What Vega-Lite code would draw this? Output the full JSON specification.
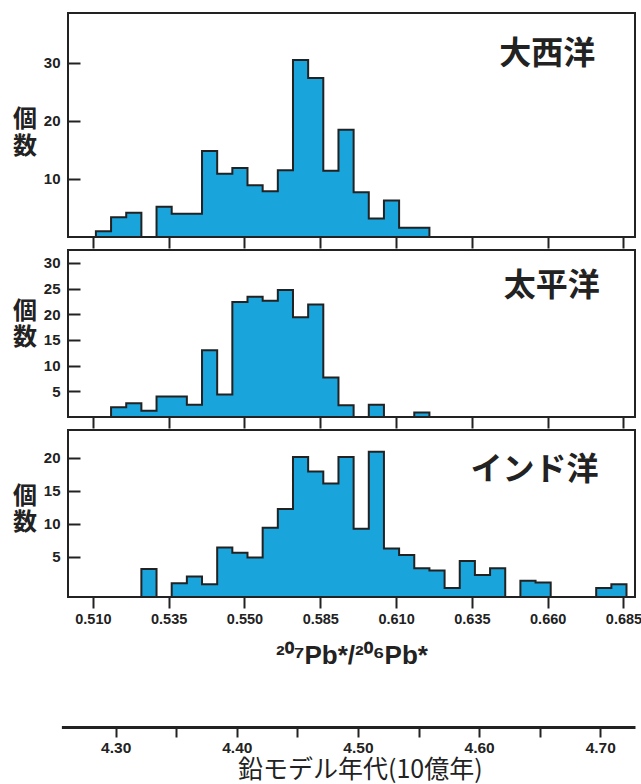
{
  "$schema": "https://vega.github.io/schema/vega-lite/v6.json",
  "padding": {"left": 11, "top": 12, "right": 0, "bottom": 0},
  "background": "white",
  "spacing": 13,
  "bounds": "flush",
  "config": {
    "font": "Liberation Sans",
    "view": {"stroke": "#222222", "strokeWidth": 2},
    "axis": {
      "grid": false,
      "domain": false,
      "tickColor": "#222222",
      "tickWidth": 2,
      "labelColor": "#222222",
      "labelFont": "Liberation Sans",
      "labelFontWeight": "bold",
      "labelFontSize": 15,
      "labelOverlap": false,
      "labelFlush": false,
      "titleColor": "#222222"
    }
  },
  "datasets": {
    "atlantic": [
      {"start": 0.511, "count": 1.0},
      {"start": 0.516, "count": 3.4},
      {"start": 0.521, "count": 4.2},
      {"start": 0.526, "count": 0},
      {"start": 0.531, "count": 5.2},
      {"start": 0.536, "count": 4.0},
      {"start": 0.541, "count": 4.0},
      {"start": 0.546, "count": 14.8},
      {"start": 0.551, "count": 10.9},
      {"start": 0.556, "count": 11.9},
      {"start": 0.561, "count": 8.9},
      {"start": 0.566, "count": 7.9},
      {"start": 0.571, "count": 11.5},
      {"start": 0.576, "count": 30.5},
      {"start": 0.581, "count": 27.4},
      {"start": 0.586, "count": 11.4},
      {"start": 0.591, "count": 18.5},
      {"start": 0.596, "count": 7.7},
      {"start": 0.601, "count": 3.2},
      {"start": 0.606, "count": 6.3},
      {"start": 0.611, "count": 1.6},
      {"start": 0.616, "count": 1.6},
      {"start": 0.621, "count": 0}
    ],
    "pacific": [
      {"start": 0.516, "count": 1.9},
      {"start": 0.521, "count": 2.7},
      {"start": 0.526, "count": 1.2},
      {"start": 0.531, "count": 4.0},
      {"start": 0.536, "count": 4.0},
      {"start": 0.541, "count": 2.4},
      {"start": 0.546, "count": 13.0},
      {"start": 0.551, "count": 4.4},
      {"start": 0.556, "count": 22.4},
      {"start": 0.561, "count": 23.4},
      {"start": 0.566, "count": 22.6},
      {"start": 0.571, "count": 24.7},
      {"start": 0.576, "count": 19.4},
      {"start": 0.581, "count": 21.9},
      {"start": 0.586, "count": 7.7},
      {"start": 0.591, "count": 2.3},
      {"start": 0.596, "count": 0},
      {"start": 0.601, "count": 2.4},
      {"start": 0.606, "count": 0},
      {"start": 0.611, "count": 0},
      {"start": 0.616, "count": 0.9},
      {"start": 0.621, "count": 0}
    ],
    "indian": [
      {"start": 0.526, "count": 4.25},
      {"start": 0.531, "count": 0},
      {"start": 0.536, "count": 2.1},
      {"start": 0.541, "count": 3.1},
      {"start": 0.546, "count": 1.95},
      {"start": 0.551, "count": 7.5},
      {"start": 0.556, "count": 6.7},
      {"start": 0.561, "count": 6.0},
      {"start": 0.566, "count": 10.5},
      {"start": 0.571, "count": 13.35},
      {"start": 0.576, "count": 21.2},
      {"start": 0.581, "count": 19.0},
      {"start": 0.586, "count": 17.2},
      {"start": 0.591, "count": 21.2},
      {"start": 0.596, "count": 10.35},
      {"start": 0.601, "count": 22.0},
      {"start": 0.606, "count": 7.35},
      {"start": 0.611, "count": 6.35},
      {"start": 0.616, "count": 4.35},
      {"start": 0.621, "count": 4.0},
      {"start": 0.626, "count": 1.35},
      {"start": 0.631, "count": 5.45},
      {"start": 0.636, "count": 3.35},
      {"start": 0.641, "count": 4.35},
      {"start": 0.646, "count": 0},
      {"start": 0.651, "count": 2.45},
      {"start": 0.656, "count": 2.2},
      {"start": 0.661, "count": 0},
      {"start": 0.666, "count": 0},
      {"start": 0.671, "count": 0},
      {"start": 0.676, "count": 1.35},
      {"start": 0.681, "count": 1.95},
      {"start": 0.686, "count": 0}
    ]
  },
  "vconcat": [
    {
      "width": 567,
      "height": 224,
      "layer": [
        {
          "data": {"name": "atlantic"},
          "mark": {"type": "area", "interpolate": "step-after", "fill": "#19a4dc", "fillOpacity": 1, "stroke": "#222222", "strokeWidth": 2, "strokeJoin": "miter"},
          "encoding": {
            "x": {"field": "start", "type": "quantitative",
              "scale": {"domain": [0.5018, 0.6888], "nice": false, "zero": false},
              "axis": {"values": [0.51, 0.535, 0.56, 0.585, 0.61, 0.635, 0.66, 0.685], "tickCount": 20, "labels": false, "tickSize": 11, "title": null}},
            "y": {"field": "count", "type": "quantitative",
              "scale": {"domain": [0, 38.6], "nice": false},
              "axis": {"values": [10, 20, 30], "tickCount": 20, "tickSize": -12, "labelPadding": 20, "labelOverlap": false,
                "title": ["個", "数"], "titleAngle": 0, "titleAlign": "center", "titleBaseline": "top",
                "titleX": -43.4, "titleY": 94, "titleFont": "Noto Sans CJK JP", "titleFontSize": 24,
                "titleFontWeight": "bold", "titleLineHeight": 27}}
          }
        },
        {
          "data": {"values": [{"label": "大西洋"}]},
          "mark": {"type": "text", "align": "right", "baseline": "middle", "font": "Noto Sans CJK JP", "fontWeight": "bold", "fontSize": 32, "color": "#222222"},
          "encoding": {
            "x": {"datum": 0.6757, "type": "quantitative"},
            "y": {"datum": 31.5, "type": "quantitative"},
            "text": {"field": "label"}
          }
        }
      ]
    },
    {
      "width": 567,
      "height": 167,
      "layer": [
        {
          "data": {"name": "pacific"},
          "mark": {"type": "area", "interpolate": "step-after", "fill": "#19a4dc", "fillOpacity": 1, "stroke": "#222222", "strokeWidth": 2, "strokeJoin": "miter"},
          "encoding": {
            "x": {"field": "start", "type": "quantitative",
              "scale": {"domain": [0.5018, 0.6888], "nice": false, "zero": false},
              "axis": {"values": [0.51, 0.535, 0.56, 0.585, 0.61, 0.635, 0.66, 0.685], "tickCount": 20, "labels": false, "tickSize": 11, "title": null}},
            "y": {"field": "count", "type": "quantitative",
              "scale": {"domain": [0, 32.5], "nice": false},
              "axis": {"values": [5, 10, 15, 20, 25, 30], "tickCount": 20, "tickSize": -12, "labelPadding": 20, "labelOverlap": false,
                "title": ["個", "数"], "titleAngle": 0, "titleAlign": "center", "titleBaseline": "top",
                "titleX": -43.4, "titleY": 49, "titleFont": "Noto Sans CJK JP", "titleFontSize": 24,
                "titleFontWeight": "bold", "titleLineHeight": 26}}
          }
        },
        {
          "data": {"values": [{"label": "太平洋"}]},
          "mark": {"type": "text", "align": "right", "baseline": "middle", "font": "Noto Sans CJK JP", "fontWeight": "bold", "fontSize": 32, "color": "#222222"},
          "encoding": {
            "x": {"datum": 0.6772, "type": "quantitative"},
            "y": {"datum": 25.5, "type": "quantitative"},
            "text": {"field": "label"}
          }
        }
      ]
    },
    {
      "width": 567,
      "height": 167,
      "resolve": {"scale": {"x": "independent"}, "axis": {"x": "independent"}},
      "layer": [
        {
          "layer": [
            {
              "data": {"name": "indian"},
              "mark": {"type": "area", "interpolate": "step-after", "fill": "#19a4dc", "fillOpacity": 1, "stroke": "#222222", "strokeWidth": 2, "strokeJoin": "miter"},
              "encoding": {
                "x": {"field": "start", "type": "quantitative",
                  "scale": {"domain": [0.5018, 0.6888], "nice": false, "zero": false},
                  "axis": {"values": [0.51, 0.535, 0.56, 0.585, 0.61, 0.635, 0.66, 0.685], "tickCount": 20,
                    "labelExpr": "abs(datum.value - 0.56) < 0.001 ? '0.550' : format(datum.value, '.3f')",
                    "labelFontSize": 14.5, "labelPadding": 4, "tickSize": 11, "labelOverlap": false,
                    "title": "²⁰⁷Pb*/²⁰⁶Pb*", "titleFont": "Liberation Sans", "titleFontSize": 26,
                    "titleFontWeight": "bold", "titlePadding": 17}},
                "y": {"field": "count", "type": "quantitative",
                  "scale": {"domain": [0, 25.3], "nice": false},
                  "axis": {"values": [6.1, 11.1, 16.1, 21.1], "tickCount": 20,
                    "labelExpr": "format(datum.value - 1.1, 'd')",
                    "tickSize": -12, "labelPadding": 20, "labelOverlap": false,
                    "title": ["個", "数"], "titleAngle": 0, "titleAlign": "center", "titleBaseline": "top",
                    "titleX": -43.4, "titleY": 54, "titleFont": "Noto Sans CJK JP", "titleFontSize": 24,
                    "titleFontWeight": "bold", "titleLineHeight": 26}}
              }
            },
            {
              "data": {"values": [{"label": "インド洋"}]},
              "mark": {"type": "text", "align": "right", "baseline": "middle", "font": "Noto Sans CJK JP", "fontWeight": "bold", "fontSize": 32, "color": "#222222"},
              "encoding": {
                "x": {"datum": 0.6768, "type": "quantitative"},
                "y": {"datum": 19.2, "type": "quantitative"},
                "text": {"field": "label"}
              }
            }
          ]
        },
        {
          "data": {"values": [{"age": 4.5}]},
          "mark": {"type": "text", "text": ""},
          "encoding": {
            "x": {"field": "age", "type": "quantitative",
              "scale": {"domain": [4.2552, 4.7287], "nice": false, "zero": false, "rangeMin": -6.6},
              "axis": {"orient": "bottom", "offset": 130, "domain": true, "domainColor": "#222222", "domainWidth": 3,
                "values": [4.3, 4.35, 4.4, 4.45, 4.5, 4.55, 4.6, 4.65, 4.7], "tickCount": 20,
                "labelExpr": "round(datum.value * 100) % 10 == 0 ? format(datum.value, '.2f') : ''",
                "labelFontSize": 15.5, "labelPadding": 3, "tickSize": 10, "labelOverlap": false,
                "title": "鉛モデル年代(10億年)", "titleFont": "Noto Sans CJK JP", "titleFontSize": 25,
                "titleFontWeight": "normal", "titlePadding": 2, "titleX": 291.8}}
          }
        }
      ]
    }
  ]
}
